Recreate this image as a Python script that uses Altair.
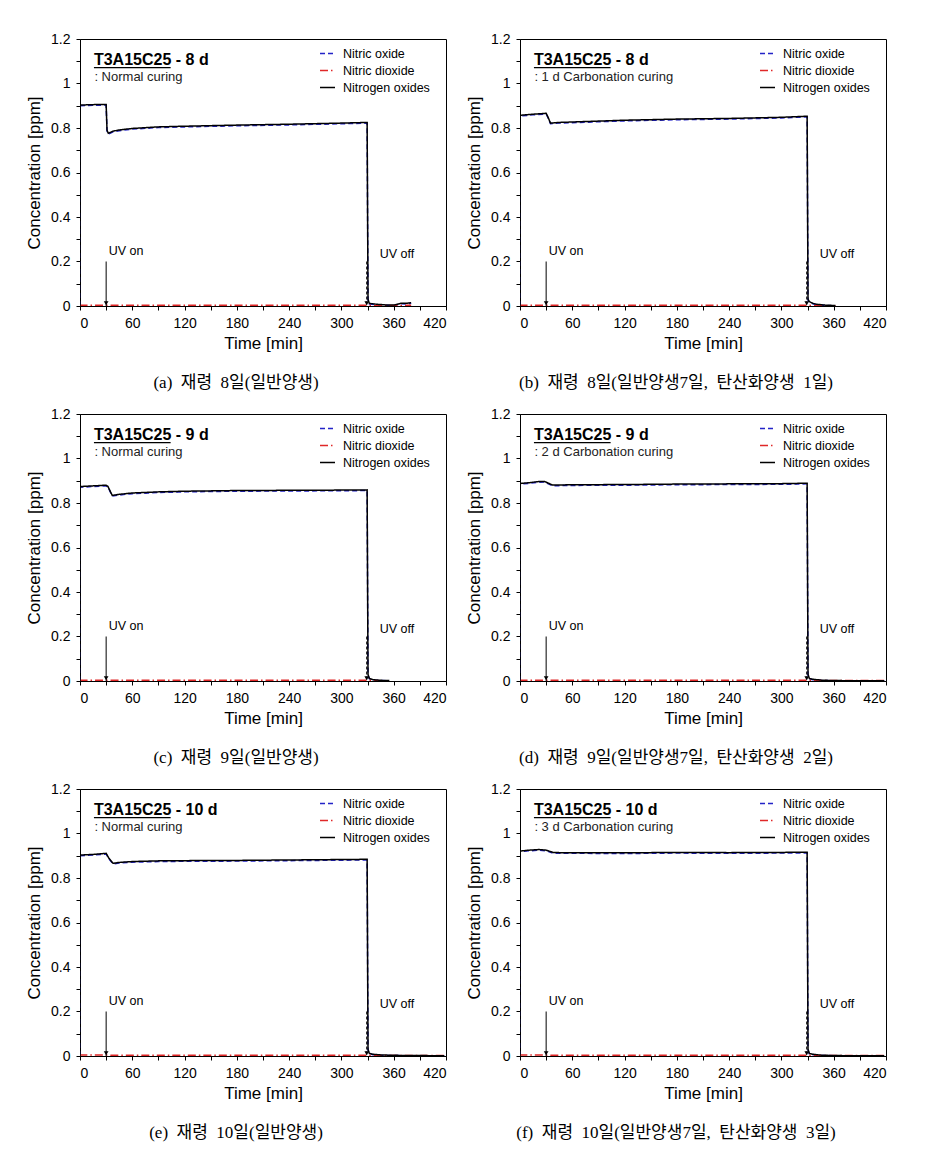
import altair as alt
import pandas as pd

FONT = "Liberation Sans"
SERIF = "Liberation Serif, Noto Sans CJK KR"
SERIES = ["Nitric oxide", "Nitric dioxide", "Nitrogen oxides"]
COLORS = ["#2323c8", "#e02828", "#000000"]
DASHES = [[5, 3], [8, 3, 1.5, 3], [1, 0]]

# ---------------- panel (a) ----------------
T_A = [0, 0.3, 15, 30, 31, 32.5, 38, 45, 60, 90, 120, 180, 240, 300, 329.5, 330.5, 332, 340, 350, 360, 364, 368, 375, 380]
NOX_A = [0, 0.903, 0.905, 0.906, 0.790, 0.776, 0.786, 0.791, 0.798, 0.805, 0.808, 0.813, 0.817, 0.822, 0.825, 0.030, 0.012, 0.008, 0.005, 0.004, 0.008, 0.012, 0.012, 0.015]
NO_A = [0, 0.900, 0.902, 0.903, 0.787, 0.773, 0.783, 0.788, 0.795, 0.802, 0.805, 0.810, 0.814, 0.819, 0.822, 0.026, 0.009, 0.006, 0.003, 0.002, 0.006, 0.010, 0.009, 0.012]
NO2_A = [0, 0.003, 0.003, 0.003, 0.003, 0.003, 0.003, 0.003, 0.003, 0.003, 0.003, 0.003, 0.003, 0.003, 0.003, 0.004, 0.003, 0.002, 0.002, 0.002, 0.002, 0.002, 0.003, 0.003]

# ---------------- panel (b) ----------------
T_B = [0, 0.3, 15, 30, 32, 35, 45, 60, 90, 120, 180, 240, 300, 329.5, 330.5, 332, 336, 340, 350, 362]
NOX_B = [0, 0.857, 0.862, 0.866, 0.850, 0.822, 0.825, 0.827, 0.831, 0.835, 0.840, 0.843, 0.848, 0.853, 0.030, 0.020, 0.012, 0.008, 0.004, 0.002]
NO_B = [0, 0.854, 0.859, 0.863, 0.847, 0.819, 0.822, 0.824, 0.828, 0.832, 0.837, 0.840, 0.845, 0.850, 0.026, 0.017, 0.010, 0.006, 0.003, 0.001]
NO2_B = [0, 0.003, 0.003, 0.003, 0.003, 0.003, 0.003, 0.003, 0.003, 0.003, 0.003, 0.003, 0.003, 0.003, 0.004, 0.003, 0.002, 0.002, 0.001, 0.001]

# ---------------- panel (c) ----------------
T_C = [0, 0.3, 15, 30, 32, 37, 45, 60, 90, 120, 180, 240, 300, 329.5, 330.5, 332, 336, 345, 355]
NOX_C = [0, 0.874, 0.877, 0.880, 0.875, 0.834, 0.839, 0.845, 0.850, 0.853, 0.856, 0.857, 0.858, 0.859, 0.030, 0.012, 0.006, 0.003, 0.002]
NO_C = [0, 0.871, 0.874, 0.877, 0.872, 0.831, 0.836, 0.842, 0.847, 0.850, 0.853, 0.854, 0.855, 0.856, 0.026, 0.010, 0.004, 0.002, 0.001]
NO2_C = [0, 0.003, 0.003, 0.003, 0.003, 0.003, 0.003, 0.003, 0.003, 0.003, 0.003, 0.003, 0.003, 0.003, 0.004, 0.003, 0.002, 0.001, 0.001]

# ---------------- panel (d) ----------------
T_D = [0, 0.3, 10, 20, 28, 32, 37, 45, 60, 120, 180, 240, 300, 329.5, 330.5, 332, 336, 345, 360, 390, 418]
NOX_D = [0, 0.888, 0.891, 0.896, 0.897, 0.890, 0.881, 0.881, 0.882, 0.883, 0.885, 0.886, 0.887, 0.889, 0.030, 0.012, 0.008, 0.004, 0.002, 0.001, 0.001]
NO_D = [0, 0.885, 0.888, 0.893, 0.894, 0.887, 0.878, 0.878, 0.879, 0.880, 0.882, 0.883, 0.884, 0.886, 0.026, 0.010, 0.006, 0.003, 0.001, 0.001, 0.001]
NO2_D = [0, 0.003, 0.003, 0.003, 0.003, 0.003, 0.003, 0.003, 0.003, 0.003, 0.003, 0.003, 0.003, 0.003, 0.004, 0.003, 0.002, 0.002, 0.002, 0.002, 0.002]

# ---------------- panel (e) ----------------
T_E = [0, 0.3, 15, 30, 33, 38, 45, 60, 90, 120, 180, 240, 300, 329.5, 330.5, 332, 336, 345, 360, 390, 418]
NOX_E = [0, 0.903, 0.906, 0.911, 0.890, 0.866, 0.870, 0.874, 0.877, 0.878, 0.879, 0.881, 0.883, 0.884, 0.030, 0.012, 0.008, 0.005, 0.003, 0.002, 0.001]
NO_E = [0, 0.900, 0.903, 0.908, 0.887, 0.863, 0.867, 0.871, 0.874, 0.875, 0.876, 0.878, 0.880, 0.881, 0.026, 0.010, 0.006, 0.003, 0.002, 0.001, 0.001]
NO2_E = [0, 0.004, 0.004, 0.004, 0.004, 0.003, 0.003, 0.003, 0.003, 0.003, 0.003, 0.003, 0.003, 0.003, 0.004, 0.003, 0.002, 0.002, 0.002, 0.002, 0.002]

# ---------------- panel (f) ----------------
T_F = [0, 0.3, 10, 22, 30, 38, 45, 60, 120, 180, 240, 300, 329.5, 330.5, 332, 336, 345, 360, 390, 418]
NOX_F = [0, 0.921, 0.925, 0.928, 0.925, 0.915, 0.914, 0.914, 0.913, 0.915, 0.914, 0.915, 0.916, 0.030, 0.012, 0.008, 0.004, 0.002, 0.001, 0.001]
NO_F = [0, 0.918, 0.922, 0.925, 0.922, 0.912, 0.911, 0.911, 0.910, 0.912, 0.911, 0.912, 0.913, 0.026, 0.010, 0.006, 0.003, 0.001, 0.001, 0.001]
NO2_F = [0, 0.004, 0.004, 0.004, 0.004, 0.003, 0.003, 0.003, 0.003, 0.003, 0.003, 0.003, 0.003, 0.004, 0.003, 0.002, 0.002, 0.002, 0.002, 0.002]

HEADINGS = ["T3A15C25 - 8 d", "T3A15C25 - 8 d", "T3A15C25 - 9 d", "T3A15C25 - 9 d", "T3A15C25 - 10 d", "T3A15C25 - 10 d"]
SUBTITLES = [": Normal curing", ": 1 d Carbonation curing", ": Normal curing",
             ": 2 d Carbonation curing", ": Normal curing", ": 3 d Carbonation curing"]
SP = "\u00a0"
CAPTIONS = [f"(a){SP} 재령{SP} 8일(일반양생)",
            f"(b){SP} 재령{SP} 8일(일반양생7일,{SP} 탄산화양생{SP} 1일)",
            f"(c){SP} 재령{SP} 9일(일반양생)",
            f"(d){SP} 재령{SP} 9일(일반양생7일,{SP} 탄산화양생{SP} 2일)",
            f"(e){SP} 재령{SP} 10일(일반양생)",
            f"(f){SP} 재령{SP} 10일(일반양생7일,{SP} 탄산화양생{SP} 3일)"]

# annotation anchor values (data units)
UV_ON_T, UV_OFF_T = 30, 329
ARROW_TOP = 0.2
HEAD_T, HEAD_V = 16, 1.083
UNDERLINE_T2, UNDERLINE_V = 104, 1.071
SUB_T, SUB_V = 16.5, 1.012
UVON_LABEL = (33, 0.245)
UVOFF_LABEL = (344, 0.233)

W, H = 366, 267


def xenc(field="t"):
    return alt.X(f"{field}:Q", scale=alt.Scale(domain=[0, 420], nice=False, zero=False),
                 axis=alt.Axis(values=list(range(0, 421, 30)),
                               labelExpr="datum.value % 60 == 0 ? datum.label : ''",
                               title="Time [min]"))


def yenc(field="v"):
    return alt.Y(f"{field}:Q", scale=alt.Scale(domain=[0, 1.2], nice=False),
                 axis=alt.Axis(values=[0, 0.1, 0.2, 0.3, 0.4, 0.5, 0.6, 0.7, 0.8, 0.9, 1.0, 1.1, 1.2],
                               labelExpr="round(datum.value*10) % 2 == 0 ? format(datum.value, '~g') : ''",
                               title="Concentration [ppm]"))


LEG = alt.Legend(title=None, orient="none", legendX=239, legendY=6, symbolType="stroke",
                 symbolSize=225, symbolStrokeWidth=1.5, labelFont=FONT, labelFontSize=12.5,
                 labelColor="black", labelOffset=7, rowPadding=2, padding=0)


def panel(t, nox, no, no2, heading, sub, cap):
    frames = {
        "Nitric oxide": pd.DataFrame({"t": t, "v": no, "series": "Nitric oxide"}),
        "Nitric dioxide": pd.DataFrame({"t": t, "v": no2, "series": "Nitric dioxide"}),
        "Nitrogen oxides": pd.DataFrame({"t": t, "v": nox, "series": "Nitrogen oxides"}),
    }
    color = alt.Color("series:N", scale=alt.Scale(domain=SERIES, range=COLORS), legend=LEG)
    dash = alt.StrokeDash("series:N", scale=alt.Scale(domain=SERIES, range=DASHES), legend=LEG)
    lines = [alt.Chart(frames[s]).mark_line(strokeWidth=1.5, clip=True).encode(
        x=xenc(), y=yenc(), color=color, strokeDash=dash) for s in SERIES]

    arrows = pd.DataFrame({"t": [UV_ON_T, UV_OFF_T], "v": [ARROW_TOP, ARROW_TOP], "v2": [0, 0],
                           "kind": ["on", "off"]})
    rule_on = alt.Chart(arrows[arrows.kind == "on"]).mark_rule(color="black", strokeWidth=1).encode(
        x=xenc(), y=yenc(), y2="v2:Q")
    rule_off = alt.Chart(arrows[arrows.kind == "off"]).mark_rule(color="black", strokeWidth=1,
                                                                strokeDash=[3, 2]).encode(
        x=xenc(), y=yenc(), y2="v2:Q")
    heads = alt.Chart(pd.DataFrame({"t": [UV_ON_T, UV_OFF_T], "v": [0.012, 0.012]})).mark_point(
        shape="triangle-down", filled=True, size=22, color="black", opacity=1).encode(x=xenc(), y=yenc())

    uv = pd.DataFrame({"t": [UVON_LABEL[0], UVOFF_LABEL[0]], "v": [UVON_LABEL[1], UVOFF_LABEL[1]],
                       "label": ["UV on", "UV off"]})
    uv_text = alt.Chart(uv).mark_text(align="left", baseline="middle", font=FONT, fontSize=12.5,
                                      color="black").encode(x=xenc(), y=yenc(), text="label:N")

    head_df = pd.DataFrame({"t": [HEAD_T], "v": [HEAD_V], "label": [heading]})
    head_text = alt.Chart(head_df).mark_text(align="left", baseline="alphabetic", font=FONT, fontSize=16,
                                             fontWeight="bold", color="black").encode(
        x=xenc(), y=yenc(), text="label:N")
    ul = alt.Chart(pd.DataFrame({"t": [HEAD_T], "t2": [UNDERLINE_T2], "v": [UNDERLINE_V]})).mark_rule(
        color="black", strokeWidth=1.2).encode(x=xenc(), x2="t2:Q", y=yenc())
    sub_df = pd.DataFrame({"t": [SUB_T], "v": [SUB_V], "label": [sub]})
    sub_text = alt.Chart(sub_df).mark_text(align="left", baseline="alphabetic", font=FONT, fontSize=13,
                                           color="#222222").encode(x=xenc(), y=yenc(), text="label:N")

    return alt.layer(*lines, rule_on, rule_off, heads, uv_text, head_text, ul, sub_text).properties(
        width=W, height=H,
        title=alt.TitleParams(cap, orient="bottom", anchor="middle", frame="bounds", font=SERIF,
                              fontSize=17, fontWeight="normal", color="black", offset=24))


pa = panel(T_A, NOX_A, NO_A, NO2_A, HEADINGS[0], SUBTITLES[0], CAPTIONS[0])
pb = panel(T_B, NOX_B, NO_B, NO2_B, HEADINGS[1], SUBTITLES[1], CAPTIONS[1])
pc = panel(T_C, NOX_C, NO_C, NO2_C, HEADINGS[2], SUBTITLES[2], CAPTIONS[2])
pd_ = panel(T_D, NOX_D, NO_D, NO2_D, HEADINGS[3], SUBTITLES[3], CAPTIONS[3])
pe = panel(T_E, NOX_E, NO_E, NO2_E, HEADINGS[4], SUBTITLES[4], CAPTIONS[4])
pf = panel(T_F, NOX_F, NO_F, NO2_F, HEADINGS[5], SUBTITLES[5], CAPTIONS[5])


def row(a, b):
    return alt.hconcat(a, b, spacing=18).resolve_legend(color="independent", strokeDash="independent")


chart = alt.vconcat(row(pa, pb), row(pc, pd_), row(pe, pf), spacing=14).resolve_legend(
    color="independent", strokeDash="independent"
).properties(
    padding={"left": 25, "top": 31, "right": 5, "bottom": 5}, background="white"
).configure_view(
    stroke="black", strokeWidth=1
).configure_axis(
    grid=False, domainColor="black", tickColor="black", labelColor="black", titleColor="black",
    labelFont=FONT, titleFont=FONT, labelFontSize=14, titleFontSize=17, titleFontWeight="normal",
    tickSize=4, labelPadding=6, titlePadding=5, domainWidth=1, tickWidth=1
).configure_axisY(titlePadding=7)

chart.save("out.html", embed_options={"renderer": "svg", "actions": False})
